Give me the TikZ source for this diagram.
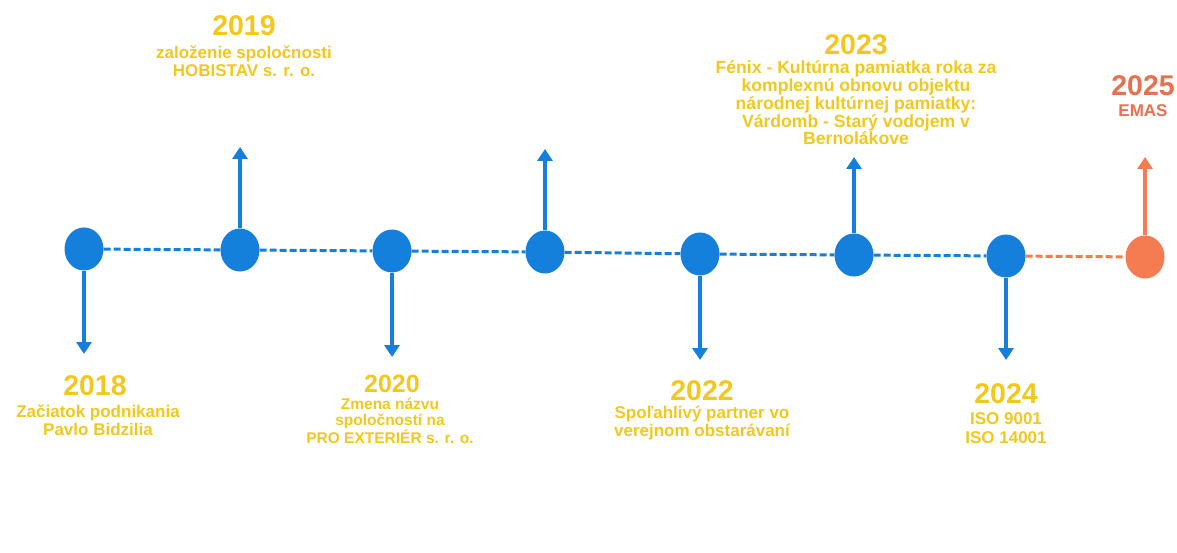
\documentclass[tikz,border=0pt]{standalone}
\usepackage{fontspec}
\setmainfont{Liberation Sans}
\usetikzlibrary{arrows.meta,shapes.geometric}
\definecolor{tlblue}{RGB}{20,128,220}
\definecolor{tlyellow}{RGB}{242,200,30}
\definecolor{tlorange}{RGB}{244,124,80}
\definecolor{tlorangetext}{RGB}{232,112,80}
\begin{document}
\begin{tikzpicture}[x=1pt,y=-1pt,
  dot/.style={ellipse, minimum width=39pt, minimum height=43pt, fill=tlblue, inner sep=0pt},
  link/.style={tlblue, line width=3pt, dash pattern=on 7pt off 3pt},
  stem/.style={tlblue, line width=4.5pt, -{Triangle[width=15pt,length=12pt]}},
  year/.style={text=tlyellow, font=\bfseries\fontsize{28.5}{30}\selectfont, inner sep=0pt},
  desc/.style={text=tlyellow, font=\bfseries\fontsize{17}{18.5}\selectfont, align=center, inner sep=0pt},
]
\useasboundingbox (0,0) rectangle (1177,553);
% dots
\node[dot] (d1) at (84,249) {};
\node[dot] (d2) at (240,250) {};
\node[dot] (d3) at (392,251) {};
\node[dot] (d4) at (545,252) {};
\node[dot] (d5) at (700,254) {};
\node[dot] (d6) at (854,255) {};
\node[dot] (d7) at (1006,256) {};
\node[dot, fill=tlorange] (d8) at (1145,257) {};
% links
\draw[link] (d1) -- (d2);
\draw[link] (d2) -- (d3);
\draw[link] (d3) -- (d4);
\draw[link] (d4) -- (d5);
\draw[link] (d5) -- (d6);
\draw[link] (d6) -- (d7);
\draw[link, tlorange] (d7) -- (d8);
% stem ends
\coordinate (t1) at (84,354);
\coordinate (t2) at (240,147);
\coordinate (t3) at (392,357);
\coordinate (t4) at (545,149);
\coordinate (t5) at (700,360);
\coordinate (t6) at (854,157);
\coordinate (t7) at (1006,360);
\coordinate (t8) at (1145,157);
\draw[stem] (d1.south) -- (t1);
\draw[stem] (d2.north) -- (t2);
\draw[stem] (d3.south) -- (t3);
\draw[stem] (d4.north) -- (t4);
\draw[stem] (d5.south) -- (t5);
\draw[stem] (d6.north) -- (t6);
\draw[stem] (d7.south) -- (t7);
\draw[stem, tlorange] (d8.north) -- (t8);
% labels
\node[year] (y18) at (95,386) {2018};
\node[desc] (l18) at (98,420) {Začiatok podnikania\\Pavlo Bidzilia};
\node[year] (y19) at (244,26) {2019};
\node[desc] (l19) at (244,61) {založenie spoločnosti\\HOBISTAV s. r. o.};
\node[year, font=\bfseries\fontsize{25}{27}\selectfont] (y20) at (392,384) {2020};
\node[desc, font=\bfseries\fontsize{15.5}{15.5}\selectfont] (l20) at (390,421) {Zmena názvu\\spoločností na\\PRO EXTERIÉR s. r. o.};
\node[year] (y22) at (702,391) {2022};
\node[desc] (l22) at (702,423) {Spoľahlivý partner vo\\verejnom obstarávaní};
\node[year] (y23) at (856,45) {2023};
\node[desc, font=\bfseries\fontsize{17.6}{17.7}\selectfont] (l23) at (856,103) {Fénix - Kultúrna pamiatka roka za\\komplexnú obnovu objektu\\národnej kultúrnej pamiatky:\\Várdomb - Starý vodojem v\\Bernolákove};
\node[year] (y24) at (1006,394) {2024};
\node[desc] (l24) at (1006,428) {ISO 9001\\ISO 14001};
\node[year, text=tlorangetext] (y25) at (1143,86) {2025};
\node[desc, text=tlorangetext] (l25) at (1143,111) {EMAS};
\end{tikzpicture}
\end{document}
